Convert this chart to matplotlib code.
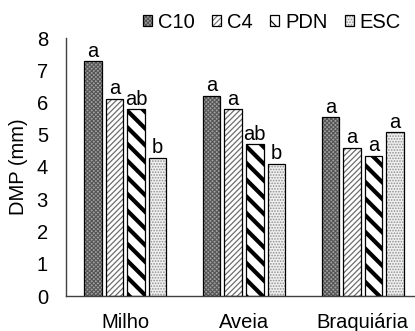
import matplotlib
matplotlib.use("Agg")
import matplotlib.pyplot as plt
import numpy as np
from matplotlib.patches import Patch
from matplotlib.legend_handler import HandlerTuple

plt.rcParams['font.family'] = ['Liberation Sans', 'DejaVu Sans']

categories = ["Milho", "Aveia", "Braquiária"]
series = ["C10", "C4", "PDN", "ESC"]
values = {
    "C10": [7.28, 6.21, 5.54],
    "C4": [6.11, 5.79, 4.60],
    "PDN": [5.79, 4.70, 4.35],
    "ESC": [4.29, 4.09, 5.07],
}
letters = {
    "C10": ["a", "a", "a"],
    "C4": ["a", "a", "a"],
    "PDN": ["ab", "ab", "a"],
    "ESC": ["b", "b", "a"],
}
yticks = [0, 1, 2, 3, 4, 5, 6, 7, 8]

styles = {
    "C10": dict(face="#a0a0a0", hatch="xxxxxxxx", hcolor="#555555", hlw=0.8),
    "C4": dict(face="white", hatch="//////", hcolor="#6e6e6e", hlw=0.9),
    "PDN": dict(face="white", hatch="\\\\", hcolor="black", hlw=3.0),
    "ESC": dict(face="#f0f0f0", hatch="......", hcolor="#909090", hlw=0.8),
}

W, H = 415, 331
fig = plt.figure(figsize=(W / 100, H / 100), dpi=100)
ax = fig.add_axes([66 / W, 1 - 296 / H, (422 - 66) / W, (296 - 38) / H])

x = np.arange(len(categories))
bw = 0.147
pitch = 0.182
fs = 14.5

handles = []
for i, s in enumerate(series):
    st = styles[s]
    off = (i - 1.5) * pitch
    plt.rcParams['hatch.linewidth'] = st["hlw"]
    b1 = ax.bar(x + off, values[s], bw, color=st["face"], edgecolor=st["hcolor"],
                hatch=st["hatch"], linewidth=0, zorder=2)
    b2 = ax.bar(x + off, values[s], bw, fill=False, edgecolor="black",
                linewidth=0.9, zorder=3)
    for p in b1:
        try:
            p.set_hatch_linewidth(st["hlw"])
        except AttributeError:
            pass
    h1 = Patch(facecolor=st["face"], edgecolor=st["hcolor"], hatch=st["hatch"], linewidth=0)
    try:
        h1.set_hatch_linewidth(min(st["hlw"], 2.0))
    except AttributeError:
        pass
    h2 = Patch(fill=False, edgecolor="black", linewidth=0.9)
    handles.append((h1, h2))
    for xi, v, t in zip(x + off, values[s], letters[s]):
        ax.annotate(t, (xi, v), xytext=(0, 0.5), textcoords="offset points",
                    ha="center", va="bottom", fontsize=fs, color="black", zorder=4)

ax.set_xlim(-0.5, 2.5)
ax.set_ylim(0, 8)
ax.set_yticks(yticks)
ax.set_xticks(x)
ax.set_xticklabels(categories)
ax.tick_params(axis="both", length=0, labelsize=fs)
ax.tick_params(axis="y", pad=13)
ax.tick_params(axis="x", pad=12)
for sp in ["top", "right"]:
    ax.spines[sp].set_visible(False)
for sp in ["left", "bottom"]:
    ax.spines[sp].set_color("#404040")
    ax.spines[sp].set_linewidth(1.0)

fig.text(18 / W, 1 - 167 / H, "DMP (mm)", rotation=90, ha="center", va="center", fontsize=fs)

leg = fig.legend(handles, series, handler_map={tuple: HandlerTuple(ndivide=1, pad=0)},
                 loc="center right", bbox_to_anchor=(401 / W, 1 - 22 / H), ncol=4,
                 frameon=False, fontsize=fs, handlelength=0.45, handleheight=0.45,
                 handletextpad=0.3, columnspacing=0.85, borderaxespad=0, borderpad=0)

fig.savefig("out.png", dpi=100)
